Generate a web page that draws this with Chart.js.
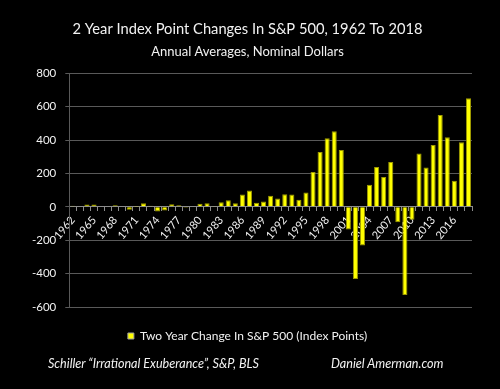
<!DOCTYPE html>
<html>
<head>
<meta charset="utf-8">
<script src="https://cdn.jsdelivr.net/npm/chart.js@4"></script>
<style>
  html, body { margin: 0; padding: 0; background: #000; }
  #wrap { position: relative; width: 500px; height: 389px; }
  #chart { position: absolute; left: 0; top: 0; }
  .note { position: absolute; top: 356px; color: #f2f2f2; font: italic 12.6px Lato, sans-serif; white-space: nowrap; }
</style>
</head>
<body>
<div id="wrap">
  <canvas id="chart" width="500" height="389"></canvas>
  <div class="note" style="left:48px">Schiller “Irrational Exuberance”, S&amp;P, BLS</div>
  <div class="note" style="left:331px">Daniel Amerman.com</div>
</div>
<script>
// categories
const years = [
  "1962", "1963", "1964", "1965", "1966", "1967", "1968", "1969", "1970", "1971",
  "1972", "1973", "1974", "1975", "1976", "1977", "1978", "1979", "1980", "1981",
  "1982", "1983", "1984", "1985", "1986", "1987", "1988", "1989", "1990", "1991",
  "1992", "1993", "1994", "1995", "1996", "1997", "1998", "1999", "2000", "2001",
  "2002", "2003", "2004", "2005", "2006", "2007", "2008", "2009", "2010", "2011",
  "2012", "2013", "2014", "2015", "2016", "2017", "2018"
];

// two year change in index points
const twoYearChange = [
  6, 3, 14, 14, 3, 3, 10, 4, -18, 1,
  22, 6, -28, -22, 15, 9, -5, 4, 18, 22,
  2, 28, 40, 22, 74, 98, 24, 32, 66, 50,
  76, 74, 42, 86, 208, 328, 410, 452, 340, -136,
  -432, -232, 132, 238, 178, 268, -92, -528, -78, 320,
  236, 370, 550, 416, 156, 386, 650
];

// only every third year gets a label
const tickYears = [
  "1962", "1965", "1968", "1971", "1974", "1977", "1980", "1983", "1986",
  "1989", "1992", "1995", "1998", "2001", "2004", "2007", "2010", "2013", "2016"
];

const yTicks = [-600, -400, -200, 0, 200, 400, 600, 800];

const textColor = "#f2f2f2";
const gridColor = "#595959";

const ctx = document.getElementById("chart").getContext("2d");

new Chart(ctx, {
  type: "bar",
  data: {
    labels: years,
    datasets: [{
      label: "Two Year Change In S&P 500 (Index Points)",
      data: twoYearChange,
      backgroundColor: "#ffff00",
      borderColor: "#9e9a00",
      borderWidth: 1,
      barPercentage: 0.72,
      categoryPercentage: 1
    }]
  },
  options: {
    responsive: false,
    animation: false,
    layout: {
      padding: { left: 23, right: 28, bottom: 37 }
    },
    plugins: {
      title: {
        display: true,
        text: "2 Year Index Point Changes In S&P 500, 1962 To 2018",
        color: textColor,
        font: { family: "Lato", size: 14.7, weight: "normal" },
        padding: { top: 20, bottom: 6 }
      },
      subtitle: {
        display: true,
        text: "Annual Averages, Nominal Dollars",
        color: textColor,
        font: { family: "Lato", size: 13, weight: "normal" },
        padding: { bottom: 14 }
      },
      legend: {
        position: "bottom",
        labels: {
          color: textColor,
          font: { family: "Lato", size: 12 },
          boxWidth: 6,
          boxHeight: 6,
          padding: 23,
          generateLabels: function (chart) {
            const items = Chart.defaults.plugins.legend.labels.generateLabels(chart);
            items.forEach(item => { item.strokeStyle = "#a0a0a0"; });
            return items;
          }
        }
      },
      tooltip: { enabled: false }
    },
    scales: {
      x: {
        // x axis sits on the zero line
        position: { y: 0 },
        grid: {
          drawOnChartArea: false,
          drawTicks: true,
          tickLength: 4,
          color: "#8c8c8c"
        },
        border: { color: "#8c8c8c" },
        ticks: {
          autoSkip: false,
          minRotation: 50,
          maxRotation: 50,
          color: textColor,
          font: { family: "Lato", size: 11 },
          padding: 3,
          callback: function (value, index) {
            const label = years[index];
            return tickYears.includes(label) ? label : "";
          }
        }
      },
      y: {
        min: yTicks[0],
        max: yTicks[yTicks.length - 1],
        afterBuildTicks: function (axis) {
          axis.ticks = yTicks.map(v => ({ value: v }));
        },
        grid: {
          color: gridColor,
          tickLength: 4
        },
        border: { color: gridColor },
        ticks: {
          color: textColor,
          font: { family: "Lato", size: 11.5 },
          padding: 9
        }
      }
    }
  }
});
</script>
</body>
</html>
